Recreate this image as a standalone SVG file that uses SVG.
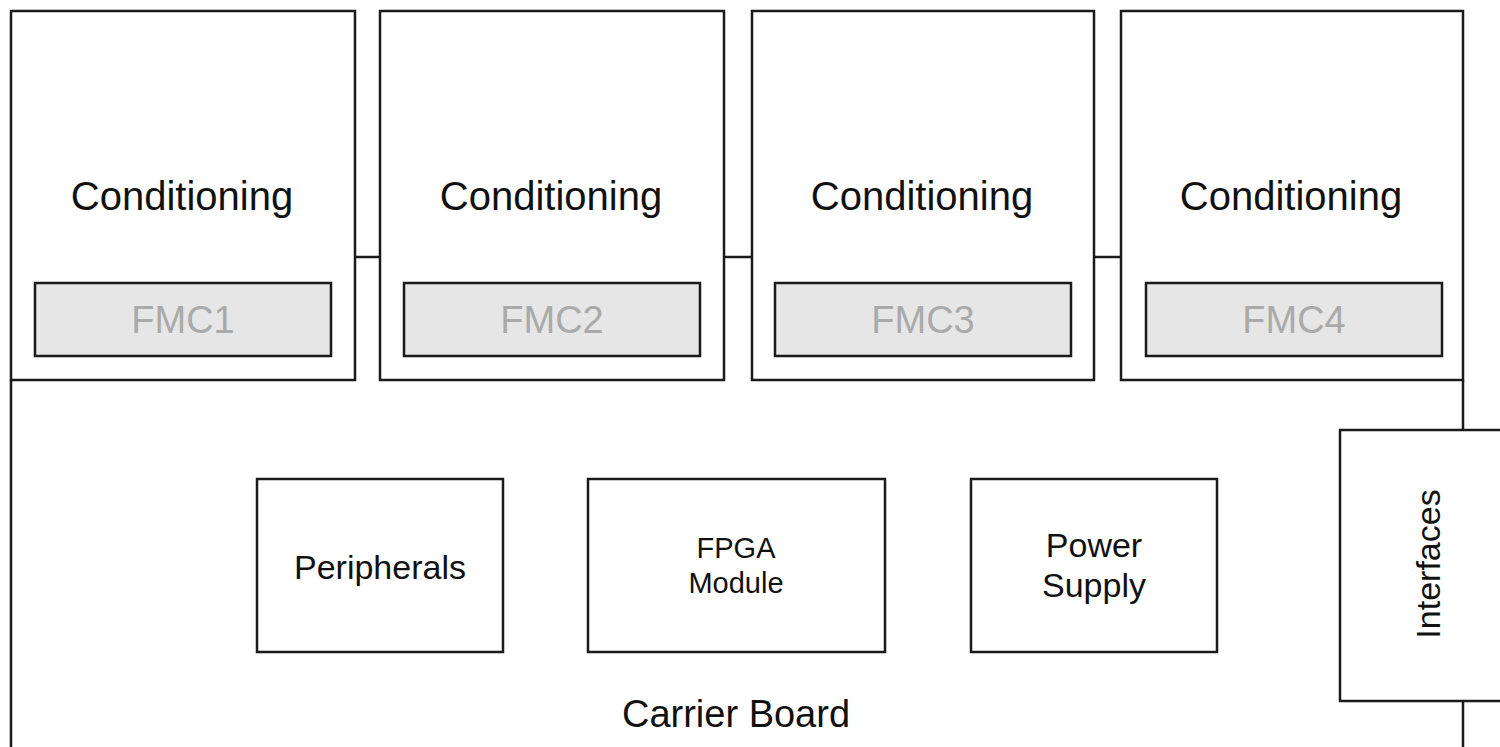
<svg xmlns="http://www.w3.org/2000/svg" width="1500" height="747" viewBox="0 0 1500 747">
<style>
.box{fill:#fff;stroke:#1a1a1a;stroke-width:2.5}
.fmc{fill:#e6e6e6;stroke:#1a1a1a;stroke-width:2.5}
.line{fill:none;stroke:#1a1a1a;stroke-width:2.5}
text{font-family:"Liberation Sans",Arial,sans-serif;fill:#111;text-anchor:middle}
.cond{font-size:40px}
.fmct{font-size:38px;fill:#aaaaaa}
.lbl{font-size:34px}
.small{font-size:29px}
</style>
<rect width="1500" height="747" fill="#fff"/>
<g id="carrier">
<path class="line" d="M11,380 V747 M1463,380 V747"/>
<text class="lbl" x="736" y="727" style="font-size:38px">Carrier Board</text>
</g>
<g id="connectors">
<path class="line" d="M355,257 H380 M724,257 H752 M1094,257 H1121"/>
</g>
<g id="cond1">
<rect class="box" x="11" y="11" width="344" height="369"/>
<text class="cond" x="182" y="210">Conditioning</text>
<rect class="fmc" x="35" y="283" width="296" height="73"/>
<text class="fmct" x="183" y="333">FMC1</text>
</g>
<g id="cond2">
<rect class="box" x="380" y="11" width="344" height="369"/>
<text class="cond" x="551" y="210">Conditioning</text>
<rect class="fmc" x="404" y="283" width="296" height="73"/>
<text class="fmct" x="552" y="333">FMC2</text>
</g>
<g id="cond3">
<rect class="box" x="752" y="11" width="342" height="369"/>
<text class="cond" x="922" y="210">Conditioning</text>
<rect class="fmc" x="775" y="283" width="296" height="73"/>
<text class="fmct" x="923" y="333">FMC3</text>
</g>
<g id="cond4">
<rect class="box" x="1121" y="11" width="342" height="369"/>
<text class="cond" x="1291" y="210">Conditioning</text>
<rect class="fmc" x="1146" y="283" width="296" height="73"/>
<text class="fmct" x="1294" y="333">FMC4</text>
</g>
<g id="peripherals">
<rect class="box" x="257" y="479" width="246" height="173"/>
<text class="lbl" x="380" y="579">Peripherals</text>
</g>
<g id="fpga">
<rect class="box" x="588" y="479" width="297" height="173"/>
<text class="small" x="736" y="558">FPGA</text>
<text class="small" x="736" y="593">Module</text>
</g>
<g id="power">
<rect class="box" x="971" y="479" width="246" height="173"/>
<text class="lbl" x="1094" y="557">Power</text>
<text class="lbl" x="1094" y="597">Supply</text>
</g>
<g id="interfaces">
<rect class="box" x="1340" y="430" width="175" height="271"/>
<text class="lbl" transform="translate(1440,564) rotate(-90)">Interfaces</text>
</g>
</svg>
